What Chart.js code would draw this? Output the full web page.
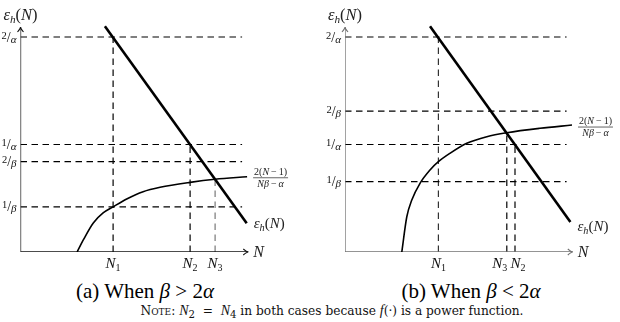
<!DOCTYPE html>
<html>
<head>
<meta charset="utf-8">
<script src="https://cdn.jsdelivr.net/npm/chart.js@4.4.1/dist/chart.umd.min.js"></script>
<style>
  body { margin: 0; background: #fff; }
  #wrap { position: relative; width: 620px; height: 322px; overflow: hidden; }
  canvas { position: absolute; top: 0; }
  #chartA { left: 0; }
  #chartB { left: 310px; }
  .cap { position: absolute; top: 279px; font-family: "Liberation Serif", serif; font-size: 21px; white-space: nowrap; transform: translateX(-50%); }
  .note { position: absolute; top: 303px; left: 332px; transform: translateX(-50%); font-family: "DejaVu Serif", serif; font-size: 12.2px; white-space: nowrap; color: #111; }
  .note i { font-family: "Liberation Serif", serif; font-size: 14px; }
  .sc { font-variant: small-caps; }
</style>
</head>
<body>
<div id="wrap">
  <canvas id="chartA" width="310" height="275"></canvas>
  <canvas id="chartB" width="310" height="275"></canvas>
  <div class="cap" style="left:145px">(a) When <i>β</i> &gt; 2<i>α</i></div>
  <div class="cap" style="left:471px">(b) When <i>β</i> &lt; 2<i>α</i></div>
  <div class="note"><span class="sc">Note:</span> <i>N</i><sub>2</sub>&nbsp; = &nbsp;<i>N</i><sub>4</sub> in both cases because <i>f</i>(·) is a power function.</div>
</div>
<script>
// units: 1/alpha = 1 on the vertical axis, N in arbitrary units

// panel (a) beta > 2 alpha
const levelsA = [2, 1, 0.84, 0.42];
const levelNumA = ['2', '1', '2', '1'];
const levelDenA = ['α', 'α', 'β', 'β'];
const nTicksA = [4.63, 8.48, 9.73];
const nNamesA = ['1', '2', '3'];
const nTopsA = [2, 1, 0.676];
const lineNA = [4.22, 11.31];
const lineEA = [2.10, 0.267];
const curveNA = [2.83, 3.14, 3.64, 4.13, 4.63, 5.31, 6.13, 6.98, 8.48, 9.73, 11.33];
const curveEA = [0, 0.112, 0.27, 0.363, 0.42, 0.493, 0.561, 0.602, 0.648, 0.677, 0.70];

// panel (b) beta < 2 alpha
const levelsB = [2, 1.31, 1, 0.655];
const levelNumB = ['2', '2', '1', '1'];
const levelDenB = ['α', 'β', 'α', 'β'];
const nTicksB = [4.67, 8.09, 8.5];
const nNamesB = ['1', '3', '2'];
const nTopsB = [2, 1.11, 1];
const lineNB = [4.25, 11.27];
const lineEB = [2.10, 0.28];
const curveNB = [2.84, 3.09, 3.34, 3.75, 4.25, 4.67, 5.25, 6.09, 7.09, 8.09, 9.75, 11.35];
const curveEB = [0, 0.328, 0.484, 0.639, 0.763, 0.84, 0.918, 1.011, 1.073, 1.11, 1.151, 1.181];

// axis extents (arrow tips) and end of horizontal guides
const axisEndN = 11.39;
const axisTopE = 2.093;
const guideEndN = 11.08;

const mathFont = '"Liberation Serif", "DejaVu Serif", serif';

function font(size, italic) {
  return (italic ? 'italic ' : '') + size + 'px ' + mathFont;
}

// runs: [text, size, italic, dy]
function drawRuns(ctx, x, y, runs, align) {
  let w = 0;
  runs.forEach((r) => { ctx.font = font(r[1], r[2]); w += ctx.measureText(r[0]).width; });
  let cx = align === 'right' ? x - w : align === 'center' ? x - w / 2 : x;
  runs.forEach((r) => {
    ctx.font = font(r[1], r[2]);
    ctx.fillText(r[0], cx, y + (r[3] || 0));
    cx += ctx.measureText(r[0]).width;
  });
  return w;
}

function epsRuns(size) {
  return [['ε', size, true], ['h', size * 0.68, true, 3], ['(', size, false], ['N', size, true], [')', size, false]];
}

function arrowHead(ctx, x, y, dx, dy) {
  const px = -dy, py = dx;
  ctx.beginPath();
  ctx.moveTo(x - dx * 5 + px * 3, y - dy * 5 + py * 3);
  ctx.quadraticCurveTo(x - dx * 1.5, y - dy * 1.5, x, y);
  ctx.quadraticCurveTo(x - dx * 1.5, y - dy * 1.5, x - dx * 5 - px * 3, y - dy * 5 - py * 3);
  ctx.stroke();
}

function seg(x0, y0, x1, y1) {
  return [{ x: x0, y: y0 }, { x: x1, y: y1 }];
}

function buildPanel(id, p) {
  const datasets = [];
  datasets.push({ data: p.lineN.map((n, i) => ({ x: n, y: p.lineE[i] })), borderColor: '#000', borderWidth: 2.6 });
  datasets.push({ data: p.curveN.map((n, i) => ({ x: n, y: p.curveE[i] })), borderColor: '#000', borderWidth: 1.6, cubicInterpolationMode: 'monotone' });
  datasets.push({ data: seg(0, 0, axisEndN, 0), borderColor: p.axisColor, borderWidth: 1.3 });
  datasets.push({ data: seg(0, 0, 0, axisTopE), borderColor: p.axisColor, borderWidth: 1.3 });
  p.levels.forEach((lv) => {
    datasets.push({ data: seg(0, lv, guideEndN, lv), borderColor: '#000', borderWidth: 1.2, borderDash: [6.5, 4.5] });
  });
  p.nTicks.forEach((n, i) => {
    datasets.push({ data: seg(n, 0, n, p.nTops[i]), borderColor: p.vColors[i], borderWidth: 1.2, borderDash: [6.5, 4.5] });
  });

  const labels = {
    id: 'labels',
    afterDraw(chart) {
      const ctx = chart.ctx;
      const xs = chart.scales.x, ys = chart.scales.y;
      const x0 = xs.getPixelForValue(0), y0 = ys.getPixelForValue(0);
      ctx.save();
      ctx.fillStyle = '#111';
      ctx.textBaseline = 'alphabetic';
      ctx.strokeStyle = p.axisColor;
      ctx.lineWidth = 1.1;
      arrowHead(ctx, xs.getPixelForValue(axisEndN), y0, 1, 0);
      arrowHead(ctx, x0, ys.getPixelForValue(axisTopE), 0, -1);

      // y tick labels as slanted fractions
      p.levels.forEach((lv, i) => {
        const y = ys.getPixelForValue(lv) + 4.5;
        drawRuns(ctx, x0 - 4, y, [[p.levelNum[i], 10.5, false, -3], ['/', 14, false], [p.levelDen[i], 11, true, 1]], 'right');
      });
      // N_i labels under the x axis
      p.nTicks.forEach((n, i) => {
        drawRuns(ctx, xs.getPixelForValue(n) + p.nShift[i], y0 + 16, [['N', 15, true], [p.nNames[i], 10, false, 3]], 'center');
      });
      ctx.fillStyle = '#222';
      drawRuns(ctx, x0, ys.getPixelForValue(axisTopE) - 7, epsRuns(16.5), 'center');
      drawRuns(ctx, xs.getPixelForValue(axisEndN) + 5, y0 + 5, [['N', 16, true]], 'left');

      // curve label, fraction
      const numRuns = [['2(', 10], ['N', 10, true], ['\u2009−\u20091)', 10]];
      const denRuns = [['Nβ', 10, true], ['\u2009−\u2009', 10], ['α', 10, true]];
      const cEndX = xs.getPixelForValue(p.curveN[p.curveN.length - 1]) + 6;
      const cEndY = ys.getPixelForValue(p.curveE[p.curveE.length - 1]) + p.fracDy;
      const wNum = drawRuns(ctx, -500, -500, numRuns, 'left');
      const wDen = drawRuns(ctx, -500, -500, denRuns, 'left');
      const w = Math.max(wNum, wDen) + 2;
      const cx = cEndX + w / 2;
      drawRuns(ctx, cx, cEndY - 3, numRuns, 'center');
      drawRuns(ctx, cx, cEndY + 9, denRuns, 'center');
      ctx.strokeStyle = '#222';
      ctx.lineWidth = 0.7;
      ctx.beginPath();
      ctx.moveTo(cEndX, cEndY);
      ctx.lineTo(cEndX + w, cEndY);
      ctx.stroke();

      // line label
      const lx = xs.getPixelForValue(p.lineN[1]) + 7;
      const ly = ys.getPixelForValue(p.lineE[1]) + p.epsDy;
      drawRuns(ctx, lx, ly, epsRuns(15), 'left');
      ctx.restore();
    }
  };

  return new Chart(document.getElementById(id), {
    type: 'line',
    data: { datasets: datasets },
    options: {
      responsive: false,
      animation: false,
      events: [],
      layout: { padding: p.padding },
      elements: { point: { radius: 0 }, line: { tension: 0, fill: false, borderCapStyle: 'butt' } },
      plugins: { legend: { display: false }, tooltip: { enabled: false } },
      scales: {
        x: { type: 'linear', min: 0, max: 13.5, display: false },
        y: { type: 'linear', min: 0, max: 2.2, display: false }
      }
    },
    plugins: [labels]
  });
}

buildPanel('chartA', {
  levels: levelsA, levelNum: levelNumA, levelDen: levelDenA,
  nTicks: nTicksA, nNames: nNamesA, nTops: nTopsA,
  lineN: lineNA, lineE: lineEA, curveN: curveNA, curveE: curveEA,
  axisColor: '#111', vColors: ['#000', '#000', '#777'], nShift: [0, 0, 0],
  fracDy: 1, epsDy: 5,
  padding: { left: 20.5, right: 19.5, top: 15.5, bottom: 23 }
});

buildPanel('chartB', {
  levels: levelsB, levelNum: levelNumB, levelDen: levelDenB,
  nTicks: nTicksB, nNames: nNamesB, nTops: nTopsB,
  lineN: lineNB, lineE: lineEB, curveN: curveNB, curveE: curveEB,
  axisColor: '#707070', vColors: ['#333', '#000', '#000'], nShift: [0, -7, 3],
  fracDy: 2, epsDy: 9,
  padding: { left: 35, right: 5, top: 15.5, bottom: 23 }
});
</script>
</body>
</html>
